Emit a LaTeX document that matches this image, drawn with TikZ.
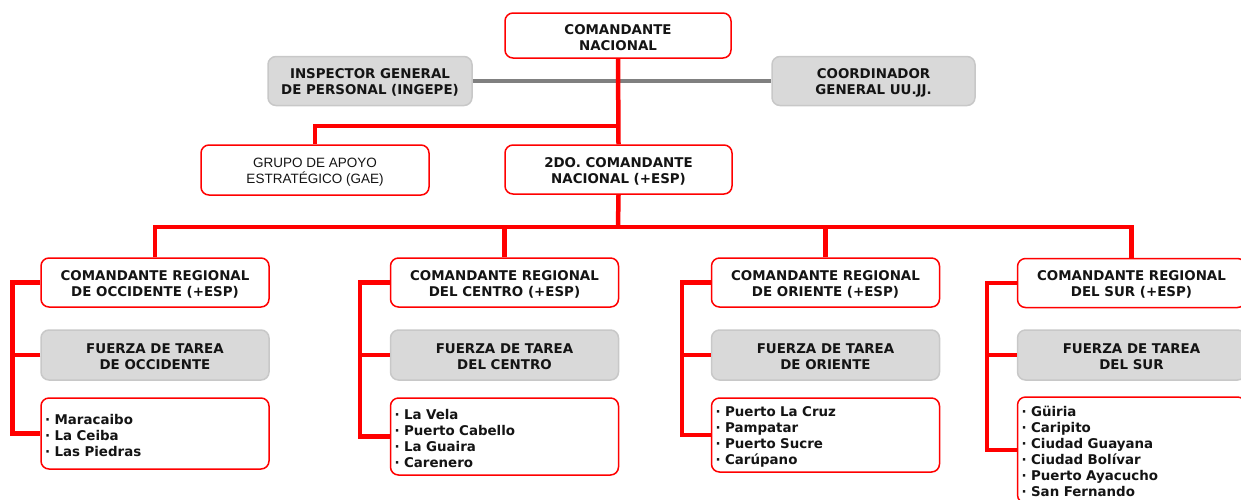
\documentclass[tikz,border=0pt]{standalone}
\usepackage{fontspec}
\setmainfont{DejaVu Sans}
\newfontfamily\gaefont{Liberation Sans}
\definecolor{boxgray}{RGB}{217,217,217}
\definecolor{boxgrayline}{RGB}{200,200,200}
\definecolor{linegray}{RGB}{128,128,128}
\definecolor{txt}{RGB}{20,20,20}
\newcommand{\lowerfirst}{\rule{0pt}{13.5pt}}
\begin{document}
\begin{tikzpicture}[x=1pt,y=-1pt,
  base/.style={line width=1.5pt, rounded corners=8pt, inner sep=0pt, align=center,
    text=txt, font=\bfseries\fontsize{13.4}{16}\selectfont},
  redbox/.style={base, draw=red, fill=white},
  graybox/.style={base, draw=boxgrayline, fill=boxgray},
  unit/.style={minimum width=228pt, minimum height=49pt},
  listbox/.style={redbox, text width=220pt, align=left, inner xsep=4pt, inner ysep=0pt},
  redline/.style={draw=red, line width=4.5pt},
  grayline/.style={draw=linegray, line width=4pt}]
\useasboundingbox (0,0) rectangle (1241,499);
\clip (0,0) rectangle (1241,499);
% top
\node[redbox, minimum width=226pt, minimum height=45pt] (cn) at (618,35.5) {\lowerfirst COMANDANTE\\NACIONAL};
\node[graybox, minimum width=204pt, minimum height=49pt] (ing) at (370,81) {\lowerfirst INSPECTOR GENERAL\\DE PERSONAL (INGEPE)};
\node[graybox, minimum width=203pt, minimum height=49pt] (coo) at (873.5,81) {\lowerfirst COORDINADOR\\GENERAL UU.JJ.};
\node[redbox, minimum width=228pt, minimum height=50pt, font=\gaefont\fontsize{13.5}{16.5}\selectfont] (gae) at (315,170) {\lowerfirst GRUPO DE APOYO\\ESTRATÉGICO (GAE)};
\node[redbox, minimum width=227pt, minimum height=49pt] (cn2) at (618.5,169.5) {\lowerfirst 2DO. COMANDANTE\\NACIONAL (+ESP)};
% regions
\node[redbox, unit] (r1) at (155,282.5) {\lowerfirst COMANDANTE REGIONAL\\DE OCCIDENTE (+ESP)};
\node[redbox, unit] (r2) at (504.5,282.5) {\lowerfirst COMANDANTE REGIONAL\\DEL CENTRO (+ESP)};
\node[redbox, unit] (r3) at (825.5,282.5) {\lowerfirst COMANDANTE REGIONAL\\DE ORIENTE (+ESP)};
\node[redbox, unit] (r4) at (1131.5,283) {\lowerfirst COMANDANTE REGIONAL\\DEL SUR (+ESP)};
\node[graybox, unit, minimum height=50pt] (f1) at (155,355) {\lowerfirst FUERZA DE TAREA\\DE OCCIDENTE};
\node[graybox, unit, minimum height=50pt] (f2) at (504.5,355) {\lowerfirst FUERZA DE TAREA\\DEL CENTRO};
\node[graybox, unit, minimum height=50pt] (f3) at (825.5,355) {\lowerfirst FUERZA DE TAREA\\DE ORIENTE};
\node[graybox, unit, minimum height=50pt] (f4) at (1131.5,355) {\lowerfirst FUERZA DE TAREA\\DEL SUR};
\node[listbox, minimum height=71pt] (l1) at (155,433.5) {\lowerfirst · Maracaibo\\· La Ceiba\\· Las Piedras};
\node[listbox, minimum height=77pt] (l2) at (504.5,436.5) {\lowerfirst · La Vela\\· Puerto Cabello\\· La Guaira\\· Carenero};
\node[listbox, minimum height=74pt] (l3) at (825.5,435) {\lowerfirst · Puerto La Cruz\\· Pampatar\\· Puerto Sucre\\· Carúpano};
\node[listbox, minimum height=106pt] (l4) at (1131.5,450) {\lowerfirst · Güiria\\· Caripito\\· Ciudad Guayana\\· Ciudad Bolívar\\· Puerto Ayacucho\\· San Fernando};
% connectors
\coordinate (j1) at (618,126);
\coordinate (j2) at (618,227);
\draw[grayline] (ing.east) -- (coo.west);
\draw[redline] (cn.south) -- (cn2.north);
\draw[redline] (j1) -| (gae.north);
\draw[redline] (cn2.south) -- (j2);
\draw[redline] (r1.north) -- (r1.north |- j2) -- (r4.north |- j2) -- (r4.north);
\draw[redline] (r2.north) -- (r2.north |- j2);
\draw[redline] (r3.north) -- (r3.north |- j2);
\foreach \i/\d in {1/28,2/30,3/29,4/30}{
  \draw[redline] (r\i.west) -- ++(-\d,0) |- (l\i.west);
  \draw[redline] (f\i.west) -- ++(-\d,0);
}
\end{tikzpicture}
\end{document}
